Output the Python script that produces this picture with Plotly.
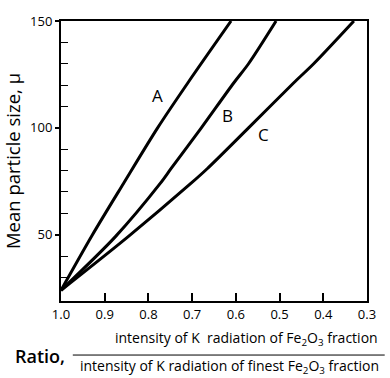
import plotly.graph_objects as go

# Calibration curves: mean particle size vs. intensity ratio
ratio_a = [1.0, 0.928, 0.857, 0.779, 0.710, 0.611]
size_a = [24, 50, 74, 100, 121, 150]

ratio_b = [1.0, 0.876, 0.773, 0.748, 0.679, 0.605, 0.571, 0.508]
size_b = [24, 49, 74, 81, 100, 121, 130, 150]

ratio_c = [1.0, 0.847, 0.703, 0.665, 0.571, 0.468, 0.422, 0.330]
size_c = [24, 49, 74, 81, 100, 121, 130, 150]

curve_labels = ["A", "B", "C"]
label_ratio = [0.779, 0.619, 0.537]
label_size = [115, 106, 97]

x_ticks = [1.0, 0.9, 0.8, 0.7, 0.6, 0.5, 0.4, 0.3]
x_tick_text = ["1.0", "0.9", "0.8", "0.7", "0.6", "0.5", "0.4", "0.3"]
y_ticks = [50, 100, 150]
y_minor = [30, 40, 60, 70, 80, 90, 110, 120, 130, 140]

W, H = 390, 378
ML, MR, MT, MB = 56, 23, 16, 77
FONT = "Open Sans"


def px(xp):
    return (xp - ML) / (W - ML - MR)


def py(yp):
    return (H - MB - yp) / (H - MT - MB)


fig = go.Figure()
for rx, sy in [(ratio_a, size_a), (ratio_b, size_b), (ratio_c, size_c)]:
    fig.add_trace(go.Scatter(
        x=rx, y=sy, mode="lines",
        line=dict(color="black", width=3, shape="spline", smoothing=0.8),
        showlegend=False, hoverinfo="skip",
    ))

for t, xr, ys in zip(curve_labels, label_ratio, label_size):
    fig.add_annotation(x=xr, y=ys, text=t, showarrow=False,
                       font=dict(family=FONT, size=17, color="black",
                                 weight=500))

# Axis caption: "Ratio," followed by a written fraction
fig.add_annotation(xref="paper", yref="paper", x=px(7), y=py(357),
                   xanchor="left", yanchor="middle", text="Ratio,",
                   showarrow=False,
                   font=dict(family=FONT, size=18, color="black",
                             weight=600))
fig.add_annotation(xref="paper", yref="paper", x=px(245), y=py(339),
                   xanchor="center", yanchor="middle",
                   text="intensity of K  radiation of Fe<sub>2</sub>O<sub>3</sub> fraction",
                   showarrow=False,
                   font=dict(family=FONT, size=14, color="black"))
fig.add_annotation(xref="paper", yref="paper", x=px(227), y=py(368),
                   xanchor="center", yanchor="middle",
                   text="intensity of K radiation of finest Fe<sub>2</sub>O<sub>3</sub> fraction",
                   showarrow=False,
                   font=dict(family=FONT, size=14, color="black"))
fig.add_shape(type="line", xref="paper", yref="paper",
              x0=px(68), x1=px(385), y0=py(356), y1=py(356),
              line=dict(color="black", width=1))

fig.update_layout(
    width=W, height=H,
    margin=dict(l=ML, r=MR, t=MT, b=MB),
    paper_bgcolor="white", plot_bgcolor="white",
    font=dict(family=FONT, color="black"),
    xaxis=dict(
        range=[1.0, 0.3], tickvals=x_ticks, ticktext=x_tick_text,
        ticks="inside", ticklen=8, tickwidth=1.5, tickcolor="black",
        showline=True, linecolor="black", linewidth=2, mirror=True,
        showgrid=False, zeroline=False,
        tickfont=dict(family=FONT, size=13, color="black"),
    ),
    yaxis=dict(
        range=[19, 150], tickvals=y_ticks,
        ticks="outside", ticklen=4, tickwidth=1.5, tickcolor="black",
        minor=dict(tickvals=y_minor, ticks="inside", ticklen=7,
                   tickwidth=1.2, tickcolor="black", showgrid=False),
        showline=True, linecolor="black", linewidth=2, mirror=True,
        showgrid=False, zeroline=False,
        tickfont=dict(family=FONT, size=13, color="black"),
        title=dict(text="Mean particle size, μ", standoff=5,
                   font=dict(family=FONT, size=18.5, color="black")),
    ),
)

fig.write_html("out.html")
